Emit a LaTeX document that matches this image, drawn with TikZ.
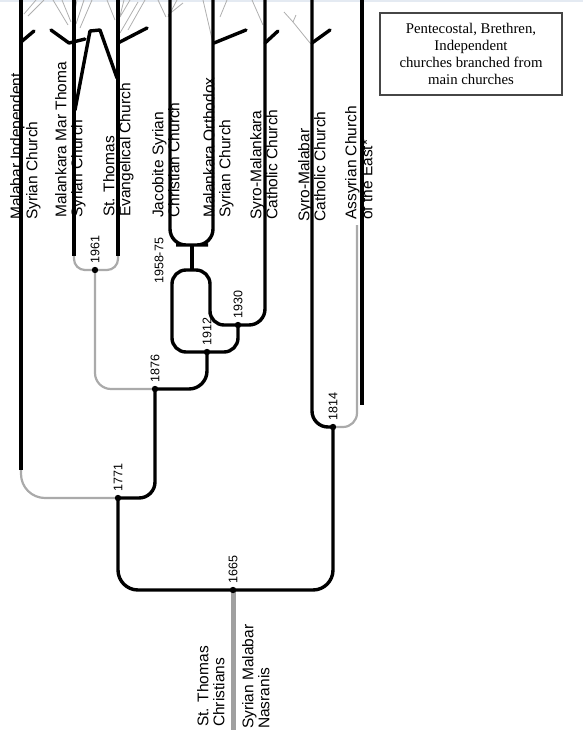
\documentclass[tikz,border=0pt]{standalone}
\usepackage{fontspec}
\setmainfont{Liberation Sans}
\newfontfamily\serifbox{Liberation Serif}
\definecolor{topband}{RGB}{228,234,242}
\definecolor{conngray}{RGB}{170,170,170}
\definecolor{trunkgray}{RGB}{160,160,160}
\definecolor{twiggray}{RGB}{175,175,175}
\definecolor{boxgray}{RGB}{70,70,70}
\begin{document}
\begin{tikzpicture}[x=1pt,y=-1pt,
  blk/.style={line width=3.4pt, black, rounded corners=16pt},
  gry/.style={line width=2.2pt, conngray, rounded corners=16pt},
  twig/.style={line width=3.4pt, black, line cap=round},
  fine/.style={line width=0.8pt, twiggray},
  church/.style={rotate=90, anchor=north west, inner sep=0pt, align=left,
                 font=\fontsize{15.5}{16}\selectfont},
  datelbl/.style={rotate=90, anchor=west, inner sep=0pt,
                  font=\fontsize{12.5}{13}\selectfont},
  legendbox/.style={draw=boxgray, line width=1.2pt, minimum width=182, minimum height=82,
                    align=center, inner sep=2pt, font=\serifbox\fontsize{14.8}{17}\selectfont},
]
\useasboundingbox (0,0) rectangle (583,737);
\fill[topband] (0,0) rectangle (583,2);

% junctions
\coordinate (n1961) at (95,270);
\coordinate (n1876) at (155,389);
\coordinate (n1771) at (118,498);
\coordinate (n1665) at (233,590);
\coordinate (n1814) at (333,427);
\coordinate (n1912) at (207,352);
\coordinate (n1930) at (238,325);
\coordinate (j58) at (192,245);
\coordinate (loopTop) at (192,270);
\coordinate (loopL) at (172,270);
\coordinate (loopR) at (210,300);
\coordinate (root) at (233,730);

% church line ends
\coordinate (tMal) at (21,0);   \coordinate (bMal) at (21,470);
\coordinate (tMT) at (74,0);    \coordinate (bMT) at (74,256);
\coordinate (tSTE) at (118,0);  \coordinate (bSTE) at (118,256);
\coordinate (tJac) at (170,0);
\coordinate (tOrth) at (213,0);
\coordinate (tSMk) at (265,0);
\coordinate (tSMb) at (312,0);
\coordinate (aGrey) at (357,225);
\coordinate (tAss) at (362,0);  \coordinate (bAss) at (362,405);

% fine grey twigs at top
\draw[fine] (24,14) -- (36,0) (28,16) -- (44,0);
\draw[fine] (53,0) -- (68,25) (62,0) -- (71,22) (77,0) -- (73,20) (92,0) -- (80,28) (84,0) -- (76,24);
\draw[fine] (107,0) -- (115,20) (124,0) -- (119,20) (130,0) -- (120,17) (138,2) -- (120,33) (145,0) -- (128,30);
\draw[fine] (158,0) -- (166,17) (177,0) -- (168,17) (183,3) -- (168,15);
\draw[fine] (203,0) -- (213,43) (227,0) -- (220,17);
\draw[fine] (252,0) -- (263,25);
\draw[fine] (284,12) -- (293,22) -- (310,43) (293,22) -- (296,15);

% grey connectors
\draw[line width=5pt, trunkgray] (n1665) -- (root);
\draw[gry, rounded corners=24pt] (bMal) |- (n1771);
\draw[gry, rounded corners=11pt] (bMT) |- (n1961) -| (bSTE);
\draw[gry, rounded corners=16pt] (n1961) |- (n1876);
\draw[gry, rounded corners=14pt] (n1814) -| (aGrey);

% black lines
\draw[blk] (tMal) -- (bMal);
\draw[blk] (tMT) -- (bMT);
\draw[blk] (tSTE) -- (bSTE);
\draw[blk] (tAss) -- (bAss);
\draw[blk, rounded corners=16pt] (n1771) -| (n1876);
\draw[blk, rounded corners=18pt] (n1876) -| (n1912);
\draw[blk, rounded corners=20pt] (n1665) -| (n1771);
\draw[blk, rounded corners=20pt] (n1665) -| (n1814);
\draw[blk, rounded corners=16pt] (tSMb) |- (n1814);
\draw[blk, rounded corners=14pt] (n1912) -| (loopL) -| (loopR) |- (n1930);
\draw[blk, rounded corners=14pt] (n1912) -| (n1930);
\draw[blk, rounded corners=16pt] (n1930) -| (tSMk);
\draw[blk] (j58) -- (loopTop);
\draw[blk, rounded corners=16pt] (tJac) |- (j58) -| (tOrth);

% black twigs
\draw[twig] (21,42) -- (34,31);
\draw[twig, line join=round] (51,30) -- (69,43) -- (85,39);
\draw[twig, line join=round] (75,110) -- (90,31) -- (100,30) -- (117,78);
\draw[twig] (118,43) -- (147,28);
\draw[twig] (214,43) -- (246,30);
\draw[twig] (265,43) -- (278,31);
\draw[twig] (312,43) -- (330,30);

% dots
\foreach \n in {n1961,n1876,n1771,n1665,n1814,n1912,n1930}
  \fill (\n) circle (3.2pt);

% church labels
\node[church] (lMal) at (10,220) {Malabar Independent\\Syrian Church};
\node[church] (lMT) at (55,218) {Malankara Mar Thoma\\Syrian Church};
\node[church] (lSTE) at (103,217) {St. Thomas\\Evangelical Church};
\node[church] (lJac) at (152,218) {Jacobite Syrian\\Christian Church};
\node[church] (lOrth) at (203,218) {Malankara Orthodox\\Syrian Church};
\node[church] (lSMk) at (250,220) {Syro-Malankara\\Catholic Church};
\node[church] (lSMb) at (298,222) {Syro-Malabar\\Catholic Church};
\node[church] (lAss) at (345,220) {Assyrian Church\\of the East*};
\node[church] (lSTC) at (197,727) {St. Thomas\\Christians};
\node[church] (lSMN) at (242,729) {Syrian Malabar\\Nasranis};

% dates
\node[datelbl] (d1961) at ([yshift=6pt]n1961) {1961};
\node[datelbl] (d1876) at ([yshift=6pt]n1876) {1876};
\node[datelbl] (d1771) at ([yshift=6pt]n1771) {1771};
\node[datelbl] (d1665) at ([yshift=6pt]n1665) {1665};
\node[datelbl] (d1814) at ([yshift=6pt]n1814) {1814};
\node[datelbl] (d1912) at ([yshift=6pt]n1912) {1912};
\node[datelbl] (d1930) at ([yshift=6pt]n1930) {1930};
\node[datelbl] (d5875) at (159,284) {1958-75};

% legend
\node[legendbox] (legend) at (471,54) {Pentecostal, Brethren,\\Independent\\churches branched from\\main churches};
\end{tikzpicture}
\end{document}
